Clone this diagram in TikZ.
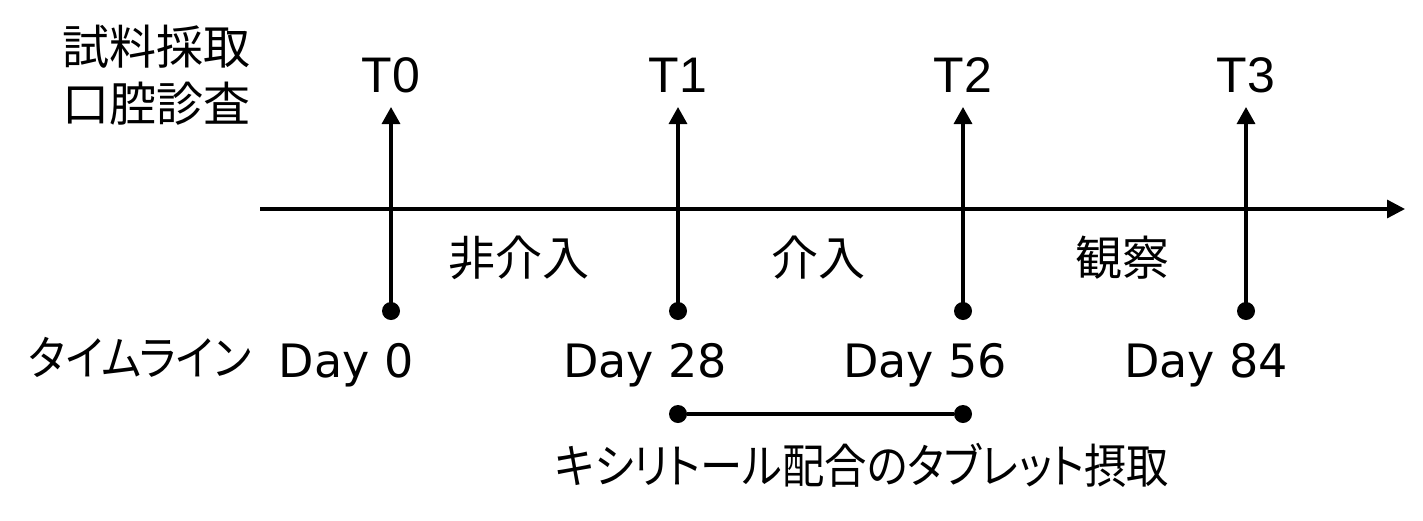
\documentclass[tikz,border=0pt]{standalone}
\usepackage{fontspec}
\setmainfont{DejaVu Sans}
\newfontfamily\jpfont[RawFeature=+palt]{Noto Sans CJK JP}
\newfontfamily\jpnarrow[RawFeature=+palt, FakeStretch=0.9]{Noto Sans CJK JP}
\newfontfamily\tfont{Liberation Sans}
\usetikzlibrary{arrows.meta, positioning}
\tikzset{
  axisline/.style={line width=1.65pt, -{Triangle[length=9pt, width=9pt]}},
  tickline/.style={line width=1.65pt, -{Triangle[length=8.5pt, width=9pt]}},
  spanline/.style={line width=1.65pt},
  dot/.style={circle, fill=black, inner sep=0pt, minimum size=9pt},
  jp/.style={font=\jpfont\fontsize{23.5}{28}\selectfont, inner sep=0pt},
  jpkana/.style={font=\jpnarrow\fontsize{23.5}{28}\selectfont, inner sep=0pt},
  tlbl/.style={font=\tfont\fontsize{25}{30}\selectfont, inner sep=0pt},
  daylbl/.style={font=\fontsize{23}{28}\selectfont, inner sep=0pt, anchor=base},
}
\begin{document}
\begin{tikzpicture}[x=0.5pt,y=-0.5pt]
  \useasboundingbox (0,0) rectangle (1423,520);
  % time axis
  \coordinate (axs) at (260,209);
  \coordinate (axe) at (1405,209);
  \draw[axisline] (axs) -- (axe);
  % sampling points
  \foreach \x/\n in {391/0, 678/1, 963/2, 1246/3} {
    \coordinate (tip\n) at (\x,107);
    \draw[tickline] (\x,311) -- (tip\n);
    \node[dot] (d\n) at (\x,311) {};
    \node[tlbl] (t\n) at (\x,75) {T\n};
  }
  % left headings
  \node[jp] (sample) at (156,47)  {試料採取};
  \node[jp] (exam)   at (156,104) {口腔診査};
  \node[jpkana] (tline) at (140,357) {タイムライン};
  % phases
  \node[jp] (nonint) at (519,258)  {非介入};
  \node[jp] (inter)  at (818,258)  {介入};
  \node[jp] (obs)    at (1122,258) {観察};
  % days
  \node[daylbl] (day0)  at (346,377)  {Day 0};
  \node[daylbl] (day28) at (645,377)  {Day 28};
  \node[daylbl] (day56) at (925,377)  {Day 56};
  \node[daylbl] (day84) at (1206,377) {Day 84};
  % tablet intake
  \node[dot] (s1) at (678,414) {};
  \node[dot] (s2) at (963,414) {};
  \draw[spanline] (s1) -- (s2);
  \node[jpkana] (tablet) at (862,465) {キシリトール配合のタブレット摂取};
\end{tikzpicture}
\end{document}
